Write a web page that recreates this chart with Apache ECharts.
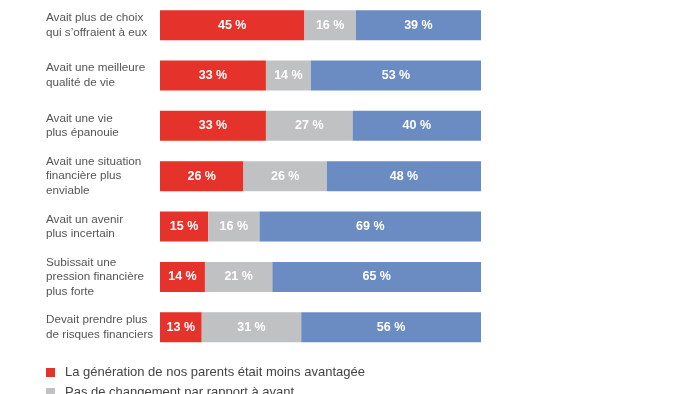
<!DOCTYPE html>
<html>
<head>
<meta charset="utf-8">
<script src="https://cdn.jsdelivr.net/npm/echarts@6/dist/echarts.min.js"></script>
<style>html,body{margin:0;padding:0;background:#fff;}#c{width:700px;height:394px;}</style>
</head>
<body>
<div id="c"></div>
<script>
const categories = [
  "Avait plus de choix\nqui s’offraient à eux",
  "Avait une meilleure\nqualité de vie",
  "Avait une vie\nplus épanouie",
  "Avait une situation\nfinancière plus\nenviable",
  "Avait un avenir\nplus incertain",
  "Subissait une\npression financière\nplus forte",
  "Devait prendre plus\nde risques financiers"
];
const seriesNames = [
  "La génération de nos parents était moins avantagée",
  "Pas de changement par rapport à avant",
  "La génération de nos parents était plus avantagée"
];
const lessAdvantaged = [45, 33, 33, 26, 15, 14, 13];
const noChange = [16, 14, 27, 26, 16, 21, 31];
const moreAdvantaged = [39, 53, 40, 48, 69, 65, 56];
const colors = ["#e5322a", "#c0c1c3", "#6b8bc3"];

const chart = echarts.init(document.getElementById('c'), null, {renderer: 'canvas'});
const font = "'Liberation Sans', Arial, sans-serif";
function mk(name, data, color) {
  return {
    name: name, type: 'bar', stack: 'total', data: data, barWidth: 30,
    itemStyle: {color: color},
    label: {show: true, position: 'inside', formatter: '{c} %', color: '#fff',
      fontFamily: font, fontWeight: 'bold', fontSize: 12.5},
    emphasis: {disabled: true}
  };
}
chart.setOption({
  animation: false,
  backgroundColor: '#fff',
  grid: {left: 160, right: 219, top: -3.4, height: 355.8, containLabel: false},
  xAxis: {type: 'value', min: 0, max: 100, show: false},
  yAxis: {
    type: 'category', data: categories, inverse: true,
    axisLine: {show: false}, axisTick: {show: false}, splitLine: {show: false},
    axisLabel: {align: 'left', margin: 114, color: '#555', fontSize: 11.7,
      fontFamily: font, lineHeight: 14.5}
  },
  legend: {
    orient: 'vertical', left: 41, top: 360, width: 400, height: 120,
    itemWidth: 9, itemHeight: 9, itemGap: 5,
    icon: 'rect', selectedMode: false,
    textStyle: {color: '#444', fontSize: 13, fontFamily: font, padding: [0, 0, 0, 5], lineHeight: 15}
  },
  series: [
    mk(seriesNames[0], lessAdvantaged, colors[0]),
    mk(seriesNames[1], noChange, colors[1]),
    mk(seriesNames[2], moreAdvantaged, colors[2])
  ]
});
</script>
</body>
</html>
